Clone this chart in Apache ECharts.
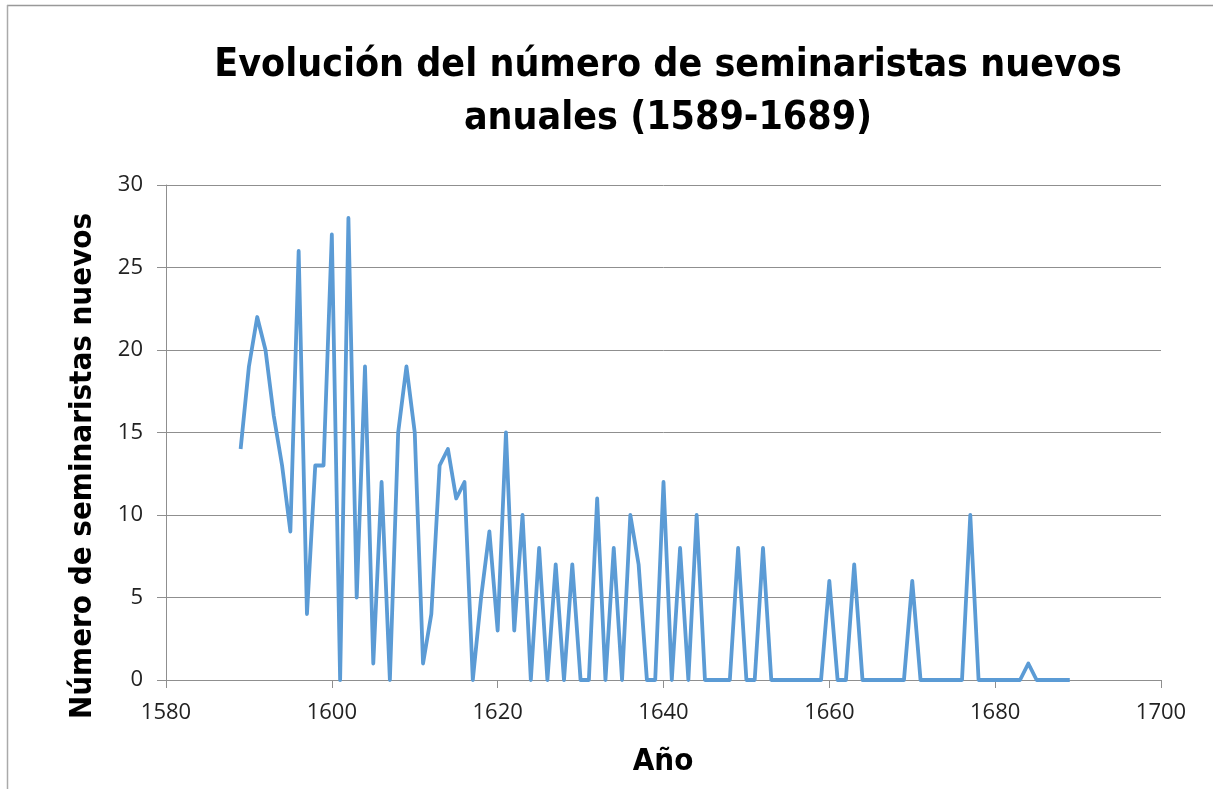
<!DOCTYPE html>
<html>
<head>
<meta charset="utf-8">
<script src="https://cdn.jsdelivr.net/npm/echarts@6/dist/echarts.min.js"></script>
<style>
html,body{margin:0;padding:0;background:#fff;}
#chart{width:1213px;height:789px;}
</style>
</head>
<body>
<div id="chart"></div>
<script>
const titleLines = ['Evolución del número de seminaristas nuevos', 'anuales (1589-1689)'];
const xAxisName = 'Año';
const yAxisName = 'Número de seminaristas nuevos';
const years = [];
for (let y = 1589; y <= 1689; y++) years.push(y);
const seminaristas = [
  14, 19, 22, 20, 16, 13, 9, 26, 4, 13,      // 1589-1598
  13, 27, 0, 28, 5, 19, 1, 12, 0, 15,        // 1599-1608
  19, 15, 1, 4, 13, 14, 11, 12, 0, 5,        // 1609-1618
  9, 3, 15, 3, 10, 0, 8, 0, 7, 0,            // 1619-1628
  7, 0, 0, 11, 0, 8, 0, 10, 7, 0,            // 1629-1638
  0, 12, 0, 8, 0, 10, 0, 0, 0, 0,            // 1639-1648
  8, 0, 0, 8, 0, 0, 0, 0, 0, 0,              // 1649-1658
  0, 6, 0, 0, 7, 0, 0, 0, 0, 0,              // 1659-1668
  0, 6, 0, 0, 0, 0, 0, 0, 10, 0,             // 1669-1678
  0, 0, 0, 0, 0, 1, 0, 0, 0, 0,              // 1679-1688
  0                                          // 1689
];
const xTicks = [1580, 1600, 1620, 1640, 1660, 1680, 1700];
const yTicks = [0, 5, 10, 15, 20, 25, 30];

const chart = echarts.init(document.getElementById('chart'), null, {renderer: 'canvas'});
const gridCol = '#8f8f8f';
const titleFont = '"Liberation Sans Narrow", "DejaVu Sans Condensed", "Liberation Sans", sans-serif';
const labelFont = '"Open Sans", "Liberation Sans", sans-serif';
chart.setOption({
  backgroundColor: '#fff',
  animation: false,
  title: {
    text: titleLines.join('\n'),
    left: 663,
    top: 34,
    textAlign: 'center',
    textStyle: {fontFamily: titleFont, fontWeight: 'bold', fontSize: 39, lineHeight: 53, color: '#000'}
  },
  grid: {left: 166, right: 52, top: 185, bottom: 109, containLabel: false},
  xAxis: {
    type: 'value',
    min: xTicks[0], max: xTicks[xTicks.length - 1], interval: 20,
    axisLine: {show: true, lineStyle: {color: gridCol, width: 1}},
    axisTick: {show: true, length: 8, lineStyle: {color: gridCol}},
    splitLine: {show: false},
    axisLabel: {fontFamily: labelFont, fontSize: 22, color: '#222', margin: 22, formatter: v => String(v)}
  },
  yAxis: {
    type: 'value',
    min: yTicks[0], max: yTicks[yTicks.length - 1], interval: 5,
    axisLine: {show: true, lineStyle: {color: gridCol, width: 1}},
    axisTick: {show: true, length: 9, lineStyle: {color: gridCol}},
    splitLine: {show: true, lineStyle: {color: gridCol, width: 1}},
    axisLabel: {fontFamily: labelFont, fontSize: 22, color: '#222', margin: 23}
  },
  series: [{
    type: 'line',
    data: years.map((y, i) => [y, seminaristas[i]]),
    showSymbol: false,
    symbol: 'none',
    lineStyle: {color: '#5B9BD5', width: 3.8, join: 'round'},
    itemStyle: {color: '#5B9BD5'}
  }],
  graphic: [
    {type: 'line', shape: {x1: 7, y1: 5.5, x2: 1213, y2: 5.5}, style: {stroke: '#999', lineWidth: 1.5}},
    {type: 'line', shape: {x1: 7.5, y1: 5, x2: 7.5, y2: 789}, style: {stroke: '#aaa', lineWidth: 1.5}},
    {type: 'text', x: 663, y: 762, style: {text: xAxisName, font: 'bold 31px ' + titleFont, fill: '#000', textAlign: 'center', textVerticalAlign: 'middle'}},
    {type: 'text', rotation: Math.PI / 2, x: 83, y: 466, style: {text: yAxisName, font: 'bold 31px ' + titleFont, fill: '#000', textAlign: 'center', textVerticalAlign: 'middle'}}
  ]
});
</script>
</body>
</html>
